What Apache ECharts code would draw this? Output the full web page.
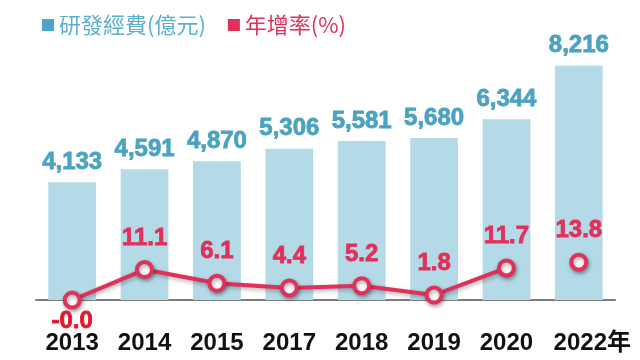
<!DOCTYPE html>
<html><head><meta charset="utf-8">
<script src="https://cdn.jsdelivr.net/npm/echarts@6/dist/echarts.min.js"></script>
<style>html,body{margin:0;padding:0;background:#fff}#c{width:640px;height:360px}</style>
</head><body><div id="c"></div>
<script>
var categories = ['2013','2014','2015','2017','2018','2019','2020','2022'];
var rdSpend = [4133, 4591, 4870, 5306, 5581, 5680, 6344, 8216];
var growthLinked = [-0.04, 11.1, 6.1, 4.4, 5.2, 1.8, 11.7, '-'];
var growthSingle = ['-', '-', '-', '-', '-', '-', '-', 13.8];
var lastCatSuffix = '年';

var RED = '#e0305b', BLUE_TXT = '#4ba2c1', BAR = '#b3dae6';
var NUM_FONT = 'Liberation Sans, Arial, sans-serif';
var CJK_FONT = 'Noto Sans CJK TC, sans-serif';

var lineCommon = {
  type: 'line', yAxisIndex: 1, clip: false, symbol: 'circle', symbolSize: 15,
  showAllSymbol: true,
  lineStyle: {color: RED, width: 4, shadowBlur: 4, shadowColor: 'rgba(0,0,0,0.3)', shadowOffsetX: 1, shadowOffsetY: 2},
  itemStyle: {color: '#fff', borderColor: RED, borderWidth: 4, shadowBlur: 4, shadowColor: 'rgba(0,0,0,0.35)', shadowOffsetX: 1, shadowOffsetY: 2},
  label: {show: true, position: 'top', distance: 10, color: RED, fontSize: 24, fontWeight: 'bold', fontFamily: NUM_FONT,
    textBorderColor: RED, textBorderWidth: 0.8,
    formatter: function(p){ return Number(p.value).toFixed(1); }},
  z: 5
};

var linked = growthLinked.map(function(v, i){
  if (i === 0) return {value: v, label: {position: 'bottom', distance: 0, color: '#e3162e', textBorderColor: '#e3162e'}};
  return v;
});

var chart = echarts.init(document.getElementById('c'), null, {renderer: 'canvas'});
chart.setOption({
  animation: false,
  backgroundColor: '#fff',
  legend: {
    left: 37, top: 9, icon: 'rect', itemWidth: 12, itemHeight: 12, itemGap: 22,
    textStyle: {fontSize: 22, fontFamily: CJK_FONT},
    data: [
      {name: '研發經費(億元)', itemStyle: {color: '#4aa6c4'}, textStyle: {color: '#5cb0cc', fontSize: 22, fontFamily: CJK_FONT}},
      {name: '年增率(%)', itemStyle: {color: RED, borderWidth: 0, shadowBlur: 0}, textStyle: {color: RED, fontSize: 22, fontFamily: CJK_FONT}}
    ]
  },
  grid: {left: 36, right: 25, top: 15, bottom: 60},
  xAxis: {
    type: 'category', data: categories,
    axisLine: {lineStyle: {color: '#7d7d7d', width: 2}},
    axisTick: {show: false},
    axisLabel: {
      margin: 31, color: '#111', fontSize: 24, fontWeight: 'bold', fontFamily: NUM_FONT, interval: 0,
      formatter: function(v, i){
        return i === categories.length - 1 ? '{last|' + v + lastCatSuffix + '}' : v;
      },
      rich: {last: {padding: [0,0,0,27], color: '#111', fontSize: 24, fontWeight: 'bold', fontFamily: NUM_FONT + ',' + CJK_FONT}}
    }
  },
  yAxis: [
    {type: 'value', min: 0, max: 10000, show: false, splitLine: {show: false}},
    {type: 'value', min: 0, max: 104, show: false, splitLine: {show: false}}
  ],
  series: [
    {name: '研發經費(億元)', type: 'bar', data: rdSpend, barWidth: '66%',
      itemStyle: {color: BAR},
      label: {show: true, position: 'top', distance: 8, color: BLUE_TXT, fontSize: 24, fontWeight: 'bold', fontFamily: NUM_FONT,
        textBorderColor: BLUE_TXT, textBorderWidth: 0.8,
        formatter: function(p){ return p.value.toLocaleString('en-US'); }}},
    Object.assign({name: '年增率(%)', data: linked}, lineCommon),
    Object.assign({name: '年增率(%)', data: growthSingle}, lineCommon)
  ]
});
</script></body></html>
